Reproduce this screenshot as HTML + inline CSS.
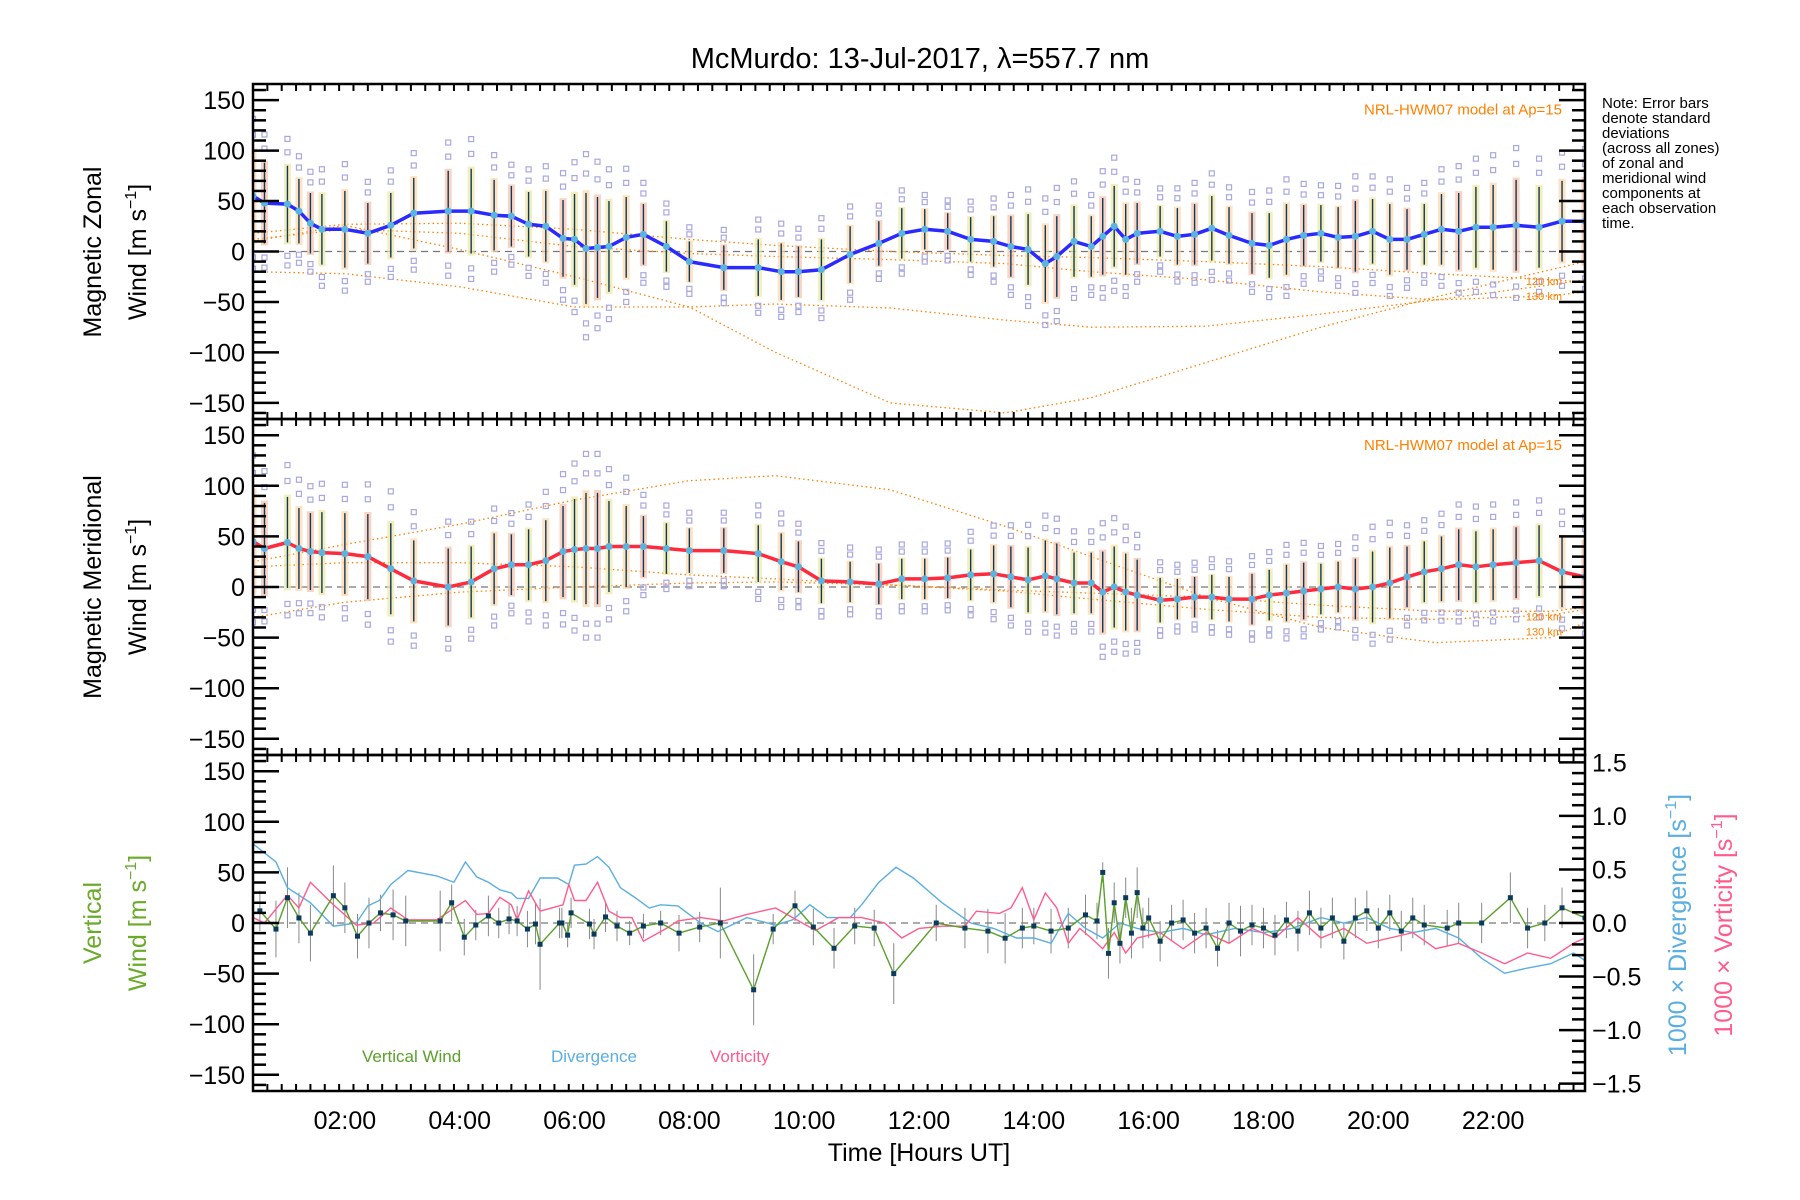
<!DOCTYPE html>
<html><head><meta charset="utf-8"><style>
html,body{margin:0;padding:0;background:#fff;}
svg{display:block;font-family:"Liberation Sans",sans-serif;}
</style></head><body>
<svg id="chart" width="1800" height="1200" viewBox="0 0 1800 1200" xmlns="http://www.w3.org/2000/svg">
<text x="920" y="68" font-size="29" text-anchor="middle" fill="#000">McMurdo: 13-Jul-2017, λ=557.7 nm</text>
<g id="notes" font-size="15" fill="#000">
<text x="1602" y="108">Note: Error bars</text><text x="1602" y="123">denote standard</text><text x="1602" y="138">deviations</text><text x="1602" y="153">(across all zones)</text><text x="1602" y="168">of zonal and</text><text x="1602" y="183">meridional wind</text><text x="1602" y="198">components at</text><text x="1602" y="213">each observation</text><text x="1602" y="228">time.</text>
</g>
<g id="layer"></g>
</svg>
<script>
// ---------- data ----------
const obsTimes = [0.4,0.6,1.0,1.2,1.4,1.6,2.0,2.4,2.8,3.2,3.8,4.2,4.6,4.9,5.2,5.5,5.8,6.0,6.2,6.4,6.6,6.9,7.2,7.6,8.0,8.6,9.2,9.6,9.9,10.3,10.8,11.3,11.7,12.1,12.5,12.9,13.3,13.6,13.9,14.2,14.4,14.7,15.0,15.2,15.4,15.6,15.8,16.2,16.5,16.8,17.1,17.4,17.8,18.1,18.4,18.7,19.0,19.3,19.6,19.9,20.2,20.5,20.8,21.1,21.4,21.7,22.0,22.4,22.8,23.2,23.6];
const zonalWind = [55,48,47,40,28,22,22,18,26,38,40,40,36,35,27,25,13,12,3,4,5,14,17,5,-10,-16,-16,-20,-20,-18,-3,8,18,22,20,12,10,5,2,-12,-5,10,5,15,25,12,18,20,15,17,23,16,8,6,12,16,18,14,15,20,12,12,17,22,20,24,24,26,24,30,30];
const zonalStd = [45,40,38,32,30,35,38,30,32,35,40,42,35,30,32,35,38,45,55,50,45,40,30,25,20,22,28,28,25,30,28,22,25,20,18,22,25,30,35,38,40,35,30,38,40,35,30,25,28,30,32,28,30,32,35,30,28,30,35,32,35,30,30,35,38,40,42,45,40,40,42];
const meridWind = [45,38,44,38,35,34,33,30,18,6,0,5,18,22,22,26,35,37,38,38,40,40,40,38,36,36,33,25,20,6,5,3,8,8,9,12,13,10,7,11,8,4,4,-5,0,-5,-8,-13,-12,-10,-10,-12,-12,-8,-6,-4,-2,0,-2,0,4,10,15,18,22,20,22,24,26,15,10];
const meridStd = [50,45,45,40,38,40,40,42,45,40,38,35,35,30,35,40,45,50,55,55,45,40,30,25,22,22,28,28,25,22,20,20,20,20,20,25,28,30,32,35,35,30,30,40,40,38,35,22,20,20,22,22,25,25,28,28,25,25,30,35,35,30,30,32,35,35,35,35,35,35,35];
const modelHours = [0.4,2,4,6,8,9.5,11.5,13.5,15,17,19,21,23,23.6];
const zonalModelA = [10,26,2,-25,-55,-100,-150,-160,-145,-110,-75,-45,-18,-10];
const zonalModelB = [18,27,28,22,12,6,0,-4,-6,-10,-15,-22,-28,-30];
const zonalModelC = [-20,-22,-35,-55,-55,-52,-56,-68,-75,-74,-62,-48,-33,-28];
const zonalModelD = [12,22,18,5,-2,-5,-8,-12,-20,-28,-40,-48,-44,-40];
const meridModelA = [25,42,62,86,105,110,96,60,30,-10,-40,-55,-50,-35];
const meridModelB = [20,24,24,20,12,8,2,-3,-6,-10,-18,-24,-24,-20];
const meridModelC = [-30,-15,-5,0,4,5,2,-4,-12,-22,-30,-32,-28,-22];
const vertTimes = [0.52,0.8,1.0,1.2,1.4,1.8,2.0,2.22,2.42,2.62,2.84,3.06,3.66,3.86,4.08,4.28,4.5,4.68,4.86,5.0,5.18,5.32,5.4,5.74,5.78,5.88,5.94,6.26,6.34,6.54,6.74,6.96,7.2,7.5,7.82,8.18,8.54,9.12,9.46,9.84,10.16,10.52,10.88,11.22,11.56,12.3,12.8,13.2,13.5,13.8,14.0,14.3,14.6,14.9,15.1,15.2,15.3,15.4,15.5,15.6,15.7,15.8,15.9,16.0,16.2,16.4,16.6,16.8,17.0,17.2,17.4,17.6,17.8,18.0,18.2,18.4,18.6,18.8,19.0,19.2,19.4,19.6,19.8,20.0,20.2,20.4,20.6,20.8,21.2,21.4,21.8,22.3,22.6,22.9,23.2,23.6];
const vertWind = [12,-6,25,5,-10,27,15,-13,0,10,8,2,2,20,-14,-2,7,0,4,2,-6,-1,-21,0,0,-12,10,-1,-11,6,-3,-10,-3,0,-10,-4,0,-66,-6,17,-4,-25,-3,-5,-50,0,-5,-8,-15,-5,-3,-8,-5,8,2,50,-30,20,-20,25,-10,30,-5,5,-18,0,3,-10,-5,-25,0,-8,-2,-5,-12,3,-8,10,-5,5,-18,5,12,-5,10,-8,5,-2,-5,0,0,25,-5,0,15,5];
const vertStd = [20,28,30,25,28,30,25,22,25,18,25,25,30,18,18,15,20,15,15,15,18,20,45,15,15,12,15,15,15,15,15,12,12,12,18,15,35,35,15,15,18,20,18,18,30,18,20,22,25,20,18,22,20,20,18,10,25,20,20,20,25,25,20,20,20,18,20,20,20,18,20,25,20,20,20,18,20,22,20,20,18,20,20,20,18,20,20,20,18,20,20,25,20,18,20,20];
const divTimes = [0.4,0.8,1.0,1.4,1.8,2.2,2.4,2.6,2.8,3.1,3.6,3.9,4.1,4.3,4.5,4.7,4.9,5.0,5.2,5.4,5.7,5.9,6.0,6.2,6.4,6.6,6.8,7.1,7.3,7.5,7.8,8.2,8.5,9.0,9.5,9.8,10.1,10.4,10.8,11.0,11.3,11.6,11.9,12.4,12.9,13.3,13.7,14.0,14.3,14.6,14.9,15.2,15.5,15.8,16.2,16.6,17.0,17.5,18.0,18.5,19.0,19.4,19.8,20.2,20.6,21.0,21.4,21.8,22.2,22.6,23.0,23.4,23.6];
const divergence = [0.74,0.57,0.33,0.19,-0.03,0,0.16,0.21,0.36,0.49,0.44,0.38,0.57,0.43,0.38,0.31,0.28,0.23,0.23,0.42,0.42,0.36,0.54,0.55,0.62,0.52,0.33,0.22,0.14,0.17,0.16,0,-0.08,0.05,-0.02,0.03,0.17,0.05,0.05,0.17,0.38,0.52,0.42,0.19,0,-0.05,-0.14,-0.14,-0.19,0.09,-0.05,-0.14,0,-0.05,-0.09,-0.05,-0.11,-0.05,-0.09,-0.05,0.05,0,0.05,-0.05,-0.09,-0.05,-0.14,-0.33,-0.47,-0.42,-0.38,-0.28,-0.35];
const vortTimes = [0.4,0.6,1.0,1.2,1.4,1.8,2.2,2.5,2.8,3.1,3.6,4.1,4.3,4.5,4.7,4.9,5.0,5.2,5.4,5.8,5.9,6.0,6.2,6.4,6.6,6.8,7.0,7.2,7.6,7.8,8.2,8.6,9.0,9.5,9.8,10.2,10.6,11.0,11.4,11.7,12.0,12.4,12.8,13.0,13.4,13.6,13.8,14.0,14.2,14.4,14.6,14.8,15.0,15.2,15.4,15.6,15.8,16.2,16.6,17.0,17.4,17.8,18.2,18.6,19.0,19.4,19.8,20.2,20.6,21.0,21.4,21.8,22.2,22.6,23.0,23.4,23.6];
const vorticity = [0.05,0,0.26,0.14,0.38,0.17,-0.02,0,0.14,0.03,0.03,0.21,0.08,0.09,0.24,0.17,0.03,0.3,0.11,0.17,0.36,0.21,0.21,0.38,0.11,0.05,0.05,-0.17,-0.05,0.02,0.05,0.02,0.08,0.14,0.05,-0.07,0.05,0.05,0,-0.14,-0.05,-0.03,-0.03,0.11,0.09,0.14,0.33,0.03,0.28,0.14,-0.19,-0.05,-0.14,-0.24,-0.09,-0.28,-0.14,-0.09,-0.24,-0.09,-0.19,-0.05,-0.14,0.05,-0.14,-0.05,-0.19,-0.14,-0.09,-0.24,-0.19,-0.28,-0.38,-0.28,-0.33,-0.19,-0.14];
const xTickLabels = ["02:00","04:00","06:00","08:00","10:00","12:00","14:00","16:00","18:00","20:00","22:00"];
const yTickLabels = ["−150","−100","−50","0","50","100","150"];
const rTickLabels = ["−1.5","−1.0","−0.5","0.0","0.5","1.0","1.5"];

// ---------- geometry ----------
const NS="http://www.w3.org/2000/svg";
const layer=document.getElementById('layer');
const X0=253,X1=1585,H0=0.4,H1=23.6;
const panels=[{top:84,bot:419},{top:419,bot:755},{top:755,bot:1091}];
const YR=166;
function xs(h){return X0+(h-H0)/(H1-H0)*(X1-X0);}
function ys(p,v){const P=panels[p];const mid=(P.top+P.bot)/2;return mid-v/YR*(P.bot-P.top)/2;}
function yr(v){return ys(2,v*105.8);}
function mk(tag,attrs,parent){const e=document.createElementNS(NS,tag);for(const k in attrs)e.setAttribute(k,attrs[k]);(parent||layer).appendChild(e);return e;}
function poly(xsArr,ysArr,p,conv){return xsArr.map((h,i)=>xs(h).toFixed(1)+','+conv(ysArr[i]).toFixed(1)).join(' ');}

const defs=mk('defs',{});
panels.forEach((P,i)=>{const c=mk('clipPath',{id:'clip'+i},defs);mk('rect',{x:X0,y:P.top,width:X1-X0,height:P.bot-P.top},c);});

function drawPanel(p,times,vals,std,lineColor,models){
  const g=mk('g',{'clip-path':'url(#clip'+p+')'});
  
  
  mk('line',{x1:X0,x2:X1,y1:ys(p,0),y2:ys(p,0),stroke:'#777','stroke-dasharray':'7,5','stroke-width':1.2},g);
  models.forEach((m,mi)=>{
    const l=mk('polyline',{points:poly(modelHours,m,p,v=>ys(p,v)),fill:'none',stroke:'#ff8000','stroke-width':1.3,'stroke-dasharray':'1.5,3'},g);
    
    
  });
  times.forEach((h,i)=>{
    const x=xs(h);
    const b=mk('rect',{x:x-3.5,y:ys(p,vals[i]+std[i]*1.05),width:7,height:ys(p,vals[i]-std[i]*1.05)-ys(p,vals[i]+std[i]*1.05),fill:i%3===0?'#ffd6a8':(i%3===1?'#f9c0a8':'#f0e6a0'),opacity:0.7},g);
    
    
    [1.35,-1.35,1.7,-1.6].forEach(f=>{
      const s=mk('rect',{x:x-2.5,y:ys(p,vals[i]+std[i]*f)-2.5,width:5,height:5,fill:'none',stroke:'#a8a8e0','stroke-width':1.2},g);
      
      
    });
    const e=mk('line',{x1:x,x2:x,y1:ys(p,vals[i]+std[i]),y2:ys(p,vals[i]-std[i]),stroke:'#0b3a5c','stroke-width':1.4},g);
    
    
  });
  const ml=mk('polyline',{points:poly(times,vals,p,v=>ys(p,v)),fill:'none',stroke:lineColor,'stroke-width':3.5,'stroke-linejoin':'round'},g);
  
  
  times.forEach((h,i)=>{
    const c=mk('circle',{cx:xs(h),cy:ys(p,vals[i]),r:3.5,fill:'#5ab4e0'},g);
    
    
  });
  const t1=mk('text',{x:1562,y:ys(p,0)-137,'font-size':15,'text-anchor':'end',fill:'#ff8000'});
  t1.textContent='NRL-HWM07 model at Ap=15';
  
  
  const ka=mk('text',{x:1562,y:ys(p,-33),'font-size':11,'text-anchor':'end',fill:'#ff8000'});ka.textContent='120 km';
  
  
  const kb=mk('text',{x:1562,y:ys(p,-48),'font-size':11,'text-anchor':'end',fill:'#ff8000'});kb.textContent='130 km';
  
  
}
drawPanel(0,obsTimes,zonalWind,zonalStd,'#2a2aff',[zonalModelA,zonalModelB,zonalModelC,zonalModelD]);
drawPanel(1,obsTimes,meridWind,meridStd,'#ff2a3c',[meridModelA,meridModelB,meridModelC]);

const g3=mk('g',{'clip-path':'url(#clip2)'});


mk('line',{x1:X0,x2:X1,y1:ys(2,0),y2:ys(2,0),stroke:'#777','stroke-dasharray':'7,5','stroke-width':1.2},g3);
vertTimes.forEach((h,i)=>{
  const e=mk('line',{x1:xs(h),x2:xs(h),y1:ys(2,vertWind[i]+vertStd[i]),y2:ys(2,vertWind[i]-vertStd[i]),stroke:'#888','stroke-width':1},g3);
  
  
});
const dl=mk('polyline',{points:poly(divTimes,divergence,2,yr),fill:'none',stroke:'#5aaee0','stroke-width':1.4},g3);


const vl=mk('polyline',{points:poly(vortTimes,vorticity,2,yr),fill:'none',stroke:'#ff5c8c','stroke-width':1.4},g3);


const wl=mk('polyline',{points:poly(vertTimes,vertWind,2,v=>ys(2,v)),fill:'none',stroke:'#5aa02a','stroke-width':1.4},g3);


vertTimes.forEach((h,i)=>{
  const r=mk('rect',{x:xs(h)-2.5,y:ys(2,vertWind[i])-2.5,width:5,height:5,fill:'#0b3a5c'},g3);
  
  
});
[['Vertical Wind',362,'#5aa02a','legend-vertical-wind'],['Divergence',551,'#5aaee0','legend-divergence'],['Vorticity',710,'#ff5c8c','legend-vorticity']].forEach(a=>{
  const t=mk('text',{x:a[1],y:1062,'font-size':17,fill:a[2]});t.textContent=a[0];
  
  
});

const ax=mk('g',{stroke:'#000',fill:'none'});


panels.forEach((P,p)=>{
  mk('rect',{x:X0,y:P.top,width:X1-X0,height:P.bot-P.top,'stroke-width':2.5},ax);
  for(let m=24;m<=23.6*60;m+=15){const h=m/60;if(h<H0||h>H1)continue;const major=(m%120===0);const L=major?14:7;const x=xs(h);
    mk('line',{x1:x,x2:x,y1:P.top,y2:P.top+L,'stroke-width':major?3:2},ax);mk('line',{x1:x,x2:x,y1:P.bot,y2:P.bot-L,'stroke-width':major?3:2},ax);}
  for(let v=-160;v<=160;v+=10){const y=ys(p,v);if(y<P.top+2||y>P.bot-2)continue;const major=(v%50===0);const L=major?26:13;
    mk('line',{x1:X0,x2:X0+L,y1:y,y2:y,'stroke-width':2.5},ax);
    if(p<2)mk('line',{x1:X1,x2:X1-L,y1:y,y2:y,'stroke-width':2.5},ax);}
  if(p===2){for(let k=-15;k<=15;k++){const v=k/10;const y=yr(v);if(y<P.top+2||y>P.bot-2)continue;const major=(k%5===0);const L=major?26:13;
    mk('line',{x1:X1,x2:X1-L,y1:y,y2:y,'stroke-width':2.5},ax);}}
  yTickLabels.forEach((s,i)=>{const v=-150+50*i;const t=mk('text',{x:X0-8,y:ys(p,v)+9,'font-size':25,'text-anchor':'end',fill:'#000',stroke:'none'});t.textContent=s;
    
    });
});
rTickLabels.forEach((s,i)=>{const v=-1.5+0.5*i;const t=mk('text',{x:X1+7,y:yr(v)+9,'font-size':25,fill:'#000'});t.textContent=s;
  
  });
xTickLabels.forEach((s,i)=>{const t=mk('text',{x:xs(2+2*i),y:1129,'font-size':25,'text-anchor':'middle',fill:'#000'});t.textContent=s;
  
  });
const xt=mk('text',{x:919,y:1161,'font-size':25,'text-anchor':'middle',fill:'#000'});xt.textContent='Time [Hours UT]';



function rotLabel(x,y,lines,color,name){
  const t=mk('text',{transform:'translate('+x+','+y+') rotate(-90)','font-size':25,'text-anchor':'middle',fill:color});
  
  
  t.innerHTML=lines;
}
const sup='Wind [m s<tspan font-size="16" dy="-10">−1</tspan><tspan dy="10">]</tspan>';
rotLabel(101,252,'Magnetic Zonal','#000','zonal-y-title-1');
rotLabel(146,252,sup,'#000','zonal-y-title-2');
rotLabel(101,587,'Magnetic Meridional','#000','meridional-y-title-1');
rotLabel(146,587,sup,'#000','meridional-y-title-2');
rotLabel(101,923,'Vertical','#6aaa2a','vertical-y-title-1');
rotLabel(146,923,sup,'#6aaa2a','vertical-y-title-2');
rotLabel(1686,925,'1000 × Divergence [s<tspan font-size="16" dy="-10">−1</tspan><tspan dy="10">]</tspan>','#5aaee0','divergence-axis-title');
rotLabel(1732,925,'1000 × Vorticity [s<tspan font-size="16" dy="-10">−1</tspan><tspan dy="10">]</tspan>','#ff5c8c','vorticity-axis-title');
</script>
</body></html>
